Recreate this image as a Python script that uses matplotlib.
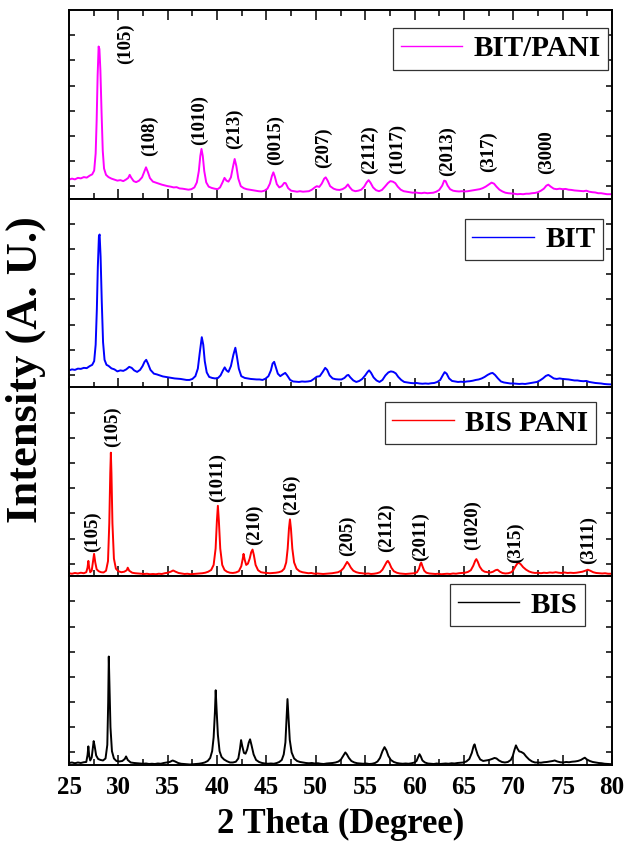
import matplotlib
matplotlib.use("Agg")
import matplotlib.pyplot as plt
from matplotlib.ticker import MultipleLocator

# ---------------- data: XRD traces (2 theta, intensity in a.u.) ----------------
bit_pani = [(25.0,1.26),(25.3,1.30),(25.6,1.27),(25.9,1.33),(26.2,1.31),(26.5,1.36),(26.8,1.34),(27.1,1.42),(27.35,1.47),(27.55,1.62),(27.7,2.3),(27.8,3.6),(27.9,5.4),(28.0,6.55),(28.08,6.45),(28.18,5.6),(28.3,3.9),(28.42,2.4),(28.55,1.7),(28.75,1.45),(29.0,1.36),(29.3,1.30),(29.6,1.26),(29.9,1.22),(30.2,1.24),(30.5,1.20),(30.8,1.27),(31.0,1.33),(31.15,1.45),(31.3,1.34),(31.55,1.20),(31.8,1.16),(32.1,1.22),(32.4,1.35),(32.6,1.55),(32.8,1.75),(33.0,1.55),(33.2,1.32),(33.5,1.18),(33.8,1.14),(34.1,1.10),(34.4,1.06),(34.7,1.03),(35.0,1.00),(35.3,0.98),(35.6,0.95),(35.9,0.96),(36.2,0.91),(36.5,0.90),(36.8,0.88),(37.1,0.86),(37.4,0.88),(37.7,0.95),(37.95,1.15),(38.15,1.6),(38.3,2.2),(38.42,2.48),(38.55,2.2),(38.7,1.6),(38.9,1.15),(39.15,0.98),(39.45,0.93),(39.75,0.90),(40.05,0.88),(40.3,0.95),(40.55,1.15),(40.75,1.33),(40.95,1.22),(41.15,1.18),(41.4,1.35),(41.6,1.75),(41.78,2.08),(41.95,1.8),(42.15,1.30),(42.4,1.00),(42.7,0.92),(43.0,0.88),(43.3,0.86),(43.6,0.84),(43.9,0.82),(44.2,0.80),(44.5,0.79),(44.8,0.82),(45.1,0.90),(45.35,1.10),(45.55,1.40),(45.7,1.55),(45.85,1.38),(46.05,1.08),(46.3,0.95),(46.55,1.00),(46.8,1.13),(46.95,1.12),(47.2,0.92),(47.5,0.82),(47.8,0.80),(48.1,0.78),(48.4,0.80),(48.7,0.78),(49.0,0.79),(49.3,0.80),(49.6,0.86),(49.9,0.95),(50.1,1.00),(50.35,0.97),(50.6,1.10),(50.85,1.30),(51.0,1.35),(51.2,1.22),(51.45,1.00),(51.8,0.90),(52.1,0.86),(52.4,0.85),(52.7,0.88),(53.0,0.95),(53.25,1.07),(53.45,0.95),(53.7,0.84),(54.0,0.80),(54.3,0.82),(54.6,0.86),(54.9,0.98),(55.15,1.15),(55.35,1.24),(55.55,1.13),(55.8,0.95),(56.1,0.84),(56.4,0.80),(56.7,0.85),(57.0,0.98),(57.3,1.12),(57.55,1.20),(57.8,1.18),(58.05,1.12),(58.3,0.98),(58.6,0.86),(58.9,0.80),(59.2,0.78),(59.5,0.76),(59.8,0.74),(60.1,0.75),(60.4,0.73),(60.7,0.72),(61.0,0.74),(61.3,0.72),(61.6,0.73),(61.9,0.74),(62.2,0.78),(62.5,0.85),(62.8,1.02),(63.0,1.22),(63.15,1.20),(63.35,1.02),(63.6,0.88),(63.9,0.82),(64.2,0.80),(64.5,0.79),(64.8,0.80),(65.1,0.79),(65.4,0.80),(65.7,0.82),(66.0,0.84),(66.3,0.86),(66.6,0.88),(66.9,0.92),(67.2,0.98),(67.5,1.06),(67.8,1.14),(68.05,1.10),(68.3,0.98),(68.6,0.86),(68.9,0.79),(69.2,0.74),(69.5,0.72),(69.8,0.71),(70.1,0.70),(70.4,0.68),(70.7,0.69),(71.0,0.68),(71.3,0.70),(71.6,0.70),(71.9,0.72),(72.2,0.73),(72.5,0.76),(72.8,0.82),(73.1,0.90),(73.35,1.02),(73.55,1.06),(73.8,0.98),(74.1,0.90),(74.4,0.88),(74.7,0.90),(75.0,0.88),(75.3,0.89),(75.6,0.86),(75.9,0.85),(76.2,0.83),(76.5,0.82),(76.8,0.81),(77.1,0.80),(77.4,0.82),(77.7,0.78),(78.0,0.76),(78.3,0.75),(78.6,0.72),(78.9,0.72),(79.2,0.70),(79.5,0.68),(80.0,0.68)]

bit = [(25.0,1.18),(25.3,1.22),(25.6,1.20),(25.9,1.25),(26.2,1.24),(26.5,1.28),(26.8,1.27),(27.1,1.35),(27.35,1.40),(27.55,1.55),(27.7,2.2),(27.82,3.6),(27.92,5.3),(28.03,6.5),(28.1,6.58),(28.2,5.7),(28.32,3.9),(28.45,2.3),(28.6,1.6),(28.8,1.40),(29.0,1.36),(29.3,1.26),(29.6,1.22),(29.9,1.14),(30.2,1.18),(30.5,1.16),(30.8,1.22),(31.1,1.32),(31.35,1.28),(31.6,1.18),(31.9,1.12),(32.2,1.20),(32.45,1.35),(32.65,1.52),(32.82,1.60),(33.0,1.45),(33.25,1.20),(33.6,1.05),(33.9,1.02),(34.2,0.98),(34.5,0.94),(34.8,0.92),(35.1,0.90),(35.4,0.88),(35.7,0.86),(36.0,0.85),(36.3,0.84),(36.6,0.82),(36.9,0.80),(37.2,0.80),(37.5,0.84),(37.8,0.95),(38.05,1.25),(38.25,1.9),(38.45,2.5),(38.6,2.2),(38.75,1.55),(38.95,1.10),(39.2,0.92),(39.5,0.88),(39.8,0.86),(40.1,0.88),(40.35,0.98),(40.6,1.18),(40.77,1.30),(40.95,1.18),(41.15,1.12),(41.4,1.35),(41.65,1.80),(41.85,2.08),(42.0,1.75),(42.2,1.25),(42.45,0.95),(42.8,0.88),(43.1,0.86),(43.4,0.84),(43.7,0.83),(44.0,0.82),(44.3,0.82),(44.6,0.80),(44.9,0.85),(45.2,0.95),(45.45,1.18),(45.62,1.45),(45.78,1.52),(45.95,1.30),(46.15,1.05),(46.4,0.95),(46.65,1.02),(46.9,1.08),(47.1,0.98),(47.4,0.80),(47.7,0.74),(48.0,0.73),(48.3,0.72),(48.6,0.74),(48.9,0.73),(49.2,0.74),(49.5,0.76),(49.8,0.84),(50.1,0.93),(50.4,0.95),(50.7,1.12),(50.95,1.28),(51.15,1.20),(51.4,0.98),(51.7,0.86),(52.0,0.83),(52.3,0.82),(52.6,0.82),(52.9,0.88),(53.15,0.98),(53.3,1.00),(53.5,0.90),(53.8,0.78),(54.1,0.72),(54.4,0.76),(54.7,0.84),(55.0,0.98),(55.25,1.12),(55.4,1.18),(55.6,1.08),(55.85,0.90),(56.15,0.78),(56.45,0.72),(56.75,0.80),(57.05,0.98),(57.35,1.10),(57.6,1.14),(57.85,1.12),(58.1,1.06),(58.35,0.92),(58.65,0.80),(58.95,0.72),(59.25,0.70),(59.6,0.68),(59.9,0.67),(60.2,0.68),(60.5,0.66),(60.8,0.65),(61.1,0.66),(61.4,0.65),(61.7,0.67),(62.0,0.68),(62.3,0.72),(62.6,0.80),(62.85,0.98),(63.05,1.11),(63.25,1.05),(63.5,0.86),(63.8,0.76),(64.1,0.74),(64.4,0.72),(64.7,0.73),(65.0,0.72),(65.3,0.74),(65.6,0.75),(65.9,0.77),(66.2,0.80),(66.5,0.82),(66.8,0.86),(67.1,0.92),(67.4,1.00),(67.7,1.06),(67.9,1.08),(68.15,1.00),(68.45,0.86),(68.75,0.74),(69.05,0.70),(69.4,0.68),(69.7,0.66),(70.0,0.66),(70.3,0.65),(70.6,0.64),(70.9,0.65),(71.2,0.64),(71.5,0.66),(71.8,0.68),(72.1,0.70),(72.4,0.72),(72.7,0.78),(73.0,0.86),(73.3,0.96),(73.55,1.00),(73.8,0.94),(74.1,0.86),(74.4,0.84),(74.7,0.86),(75.0,0.84),(75.3,0.83),(75.6,0.82),(75.9,0.80),(76.2,0.78),(76.5,0.78),(76.8,0.76),(77.1,0.75),(77.4,0.76),(77.7,0.72),(78.0,0.70),(78.3,0.68),(78.6,0.67),(78.9,0.66),(79.2,0.64),(79.5,0.63),(80.0,0.62)]

bis_pani = [(25.0,0.62),(25.3,0.60),(25.6,0.63),(25.9,0.61),(26.2,0.64),(26.5,0.62),(26.75,0.66),(26.88,0.85),(26.96,1.11),(27.04,0.85),(27.15,0.66),(27.3,0.72),(27.42,1.05),(27.54,1.39),(27.66,1.05),(27.8,0.78),(28.0,0.70),(28.25,0.66),(28.5,0.65),(28.75,0.72),(28.95,1.10),(29.08,2.6),(29.18,4.6),(29.24,5.41),(29.3,4.6),(29.4,2.6),(29.55,1.20),(29.75,0.80),(30.0,0.70),(30.3,0.66),(30.6,0.68),(30.85,0.74),(30.95,0.84),(31.1,0.72),(31.4,0.64),(31.7,0.62),(32.0,0.61),(32.3,0.60),(32.6,0.59),(32.9,0.60),(33.2,0.58),(33.5,0.59),(33.8,0.58),(34.1,0.60),(34.4,0.59),(34.7,0.62),(35.0,0.64),(35.3,0.68),(35.55,0.73),(35.8,0.68),(36.1,0.63),(36.4,0.61),(36.7,0.59),(37.0,0.60),(37.3,0.58),(37.6,0.59),(37.9,0.60),(38.2,0.61),(38.5,0.62),(38.8,0.64),(39.1,0.68),(39.4,0.75),(39.65,0.95),(39.85,1.6),(39.98,2.7),(40.08,3.30),(40.18,2.7),(40.32,1.6),(40.52,0.95),(40.75,0.75),(41.0,0.68),(41.3,0.64),(41.6,0.63),(41.9,0.65),(42.2,0.70),(42.45,0.90),(42.6,1.20),(42.68,1.39),(42.8,1.15),(42.95,0.95),(43.12,1.00),(43.3,1.20),(43.45,1.45),(43.59,1.56),(43.72,1.35),(43.9,0.95),(44.15,0.74),(44.45,0.66),(44.75,0.64),(45.05,0.63),(45.35,0.62),(45.65,0.63),(45.95,0.64),(46.25,0.66),(46.55,0.70),(46.8,0.80),(47.0,1.05),(47.15,1.6),(47.28,2.4),(47.38,2.76),(47.48,2.4),(47.62,1.6),(47.8,1.05),(48.05,0.80),(48.35,0.70),(48.65,0.66),(48.95,0.64),(49.25,0.62),(49.55,0.63),(49.85,0.60),(50.15,0.61),(50.45,0.60),(50.75,0.59),(51.05,0.60),(51.35,0.61),(51.65,0.62),(51.95,0.64),(52.25,0.66),(52.55,0.72),(52.8,0.82),(53.0,0.96),(53.17,1.07),(53.35,0.98),(53.55,0.84),(53.8,0.72),(54.1,0.66),(54.4,0.63),(54.7,0.62),(55.0,0.60),(55.3,0.61),(55.6,0.59),(55.9,0.60),(56.2,0.62),(56.5,0.66),(56.75,0.76),(57.0,0.94),(57.2,1.08),(57.3,1.11),(57.45,1.02),(57.65,0.84),(57.9,0.70),(58.2,0.64),(58.5,0.61),(58.8,0.60),(59.1,0.59),(59.4,0.60),(59.7,0.61),(60.0,0.62),(60.25,0.66),(60.45,0.80),(60.6,1.00),(60.68,1.04),(60.8,0.90),(60.98,0.72),(61.2,0.64),(61.5,0.61),(61.8,0.60),(62.1,0.59),(62.4,0.60),(62.7,0.58),(63.0,0.59),(63.3,0.60),(63.6,0.59),(63.9,0.61),(64.2,0.60),(64.5,0.62),(64.8,0.63),(65.1,0.64),(65.4,0.67),(65.7,0.74),(65.95,0.92),(66.15,1.12),(66.26,1.18),(66.4,1.08),(66.6,0.88),(66.85,0.74),(67.1,0.68),(67.4,0.66),(67.7,0.65),(67.95,0.68),(68.2,0.74),(68.4,0.76),(68.65,0.68),(68.9,0.63),(69.2,0.61),(69.5,0.62),(69.8,0.66),(70.0,0.74),(70.2,0.88),(70.4,1.00),(70.55,1.04),(70.75,0.98),(71.0,0.86),(71.3,0.76),(71.6,0.69),(71.9,0.65),(72.2,0.63),(72.5,0.64),(72.8,0.62),(73.1,0.64),(73.4,0.63),(73.7,0.65),(74.0,0.64),(74.3,0.66),(74.6,0.64),(74.9,0.63),(75.2,0.65),(75.5,0.63),(75.8,0.64),(76.1,0.63),(76.4,0.64),(76.7,0.66),(77.0,0.68),(77.3,0.72),(77.55,0.76),(77.8,0.72),(78.1,0.66),(78.4,0.63),(78.7,0.62),(79.0,0.61),(79.3,0.62),(79.6,0.60),(80.0,0.60)]

bis = [(25.0,0.58),(25.3,0.60),(25.6,0.57),(25.9,0.60),(26.2,0.58),(26.5,0.61),(26.75,0.62),(26.88,0.90),(26.96,1.24),(27.05,0.85),(27.15,0.68),(27.3,0.80),(27.42,1.20),(27.5,1.45),(27.6,1.25),(27.75,0.88),(27.95,0.74),(28.2,0.70),(28.45,0.68),(28.7,0.76),(28.88,1.30),(28.97,3.0),(29.03,4.81),(29.1,3.6),(29.2,2.0),(29.35,1.05),(29.55,0.76),(29.8,0.66),(30.1,0.64),(30.4,0.66),(30.65,0.74),(30.78,0.84),(30.95,0.70),(31.25,0.60),(31.6,0.58),(31.9,0.57),(32.2,0.56),(32.5,0.55),(32.8,0.56),(33.1,0.54),(33.4,0.55),(33.7,0.54),(34.0,0.56),(34.3,0.55),(34.6,0.58),(34.9,0.60),(35.2,0.62),(35.5,0.68),(35.75,0.64),(36.05,0.58),(36.35,0.55),(36.65,0.54),(36.95,0.53),(37.25,0.52),(37.55,0.53),(37.85,0.54),(38.15,0.55),(38.45,0.57),(38.75,0.60),(39.05,0.66),(39.3,0.78),(39.5,1.05),(39.65,1.6),(39.78,2.6),(39.86,3.47),(39.95,2.7),(40.08,1.7),(40.25,1.05),(40.45,0.82),(40.7,0.72),(41.0,0.65),(41.3,0.60),(41.6,0.60),(41.9,0.63),(42.15,0.76),(42.32,1.15),(42.43,1.49),(42.55,1.25),(42.72,0.98),(42.88,0.95),(43.05,1.12),(43.2,1.38),(43.34,1.52),(43.48,1.30),(43.7,0.92),(43.95,0.70),(44.25,0.62),(44.55,0.58),(44.85,0.56),(45.15,0.55),(45.45,0.56),(45.75,0.55),(46.05,0.58),(46.3,0.62),(46.55,0.70),(46.75,0.92),(46.92,1.4),(47.03,2.3),(47.13,3.12),(47.23,2.4),(47.36,1.5),(47.55,1.00),(47.8,0.76),(48.1,0.66),(48.4,0.62),(48.7,0.60),(49.0,0.58),(49.3,0.57),(49.6,0.58),(49.9,0.56),(50.2,0.57),(50.5,0.55),(50.8,0.54),(51.1,0.56),(51.4,0.57),(51.7,0.58),(52.0,0.60),(52.3,0.64),(52.55,0.72),(52.8,0.88),(52.99,1.00),(53.15,0.92),(53.35,0.78),(53.6,0.66),(53.9,0.60),(54.2,0.57),(54.5,0.56),(54.8,0.55),(55.1,0.56),(55.4,0.54),(55.7,0.55),(56.0,0.58),(56.25,0.64),(56.5,0.78),(56.75,1.05),(56.96,1.21),(57.15,1.08),(57.35,0.86),(57.6,0.70),(57.9,0.62),(58.2,0.58),(58.5,0.56),(58.8,0.55),(59.1,0.56),(59.4,0.55),(59.7,0.57),(60.0,0.60),(60.2,0.66),(60.38,0.82),(60.5,0.93),(60.62,0.85),(60.8,0.68),(61.05,0.60),(61.35,0.56),(61.65,0.55),(61.95,0.54),(62.25,0.56),(62.55,0.54),(62.85,0.55),(63.15,0.56),(63.45,0.55),(63.75,0.57),(64.05,0.56),(64.35,0.58),(64.65,0.59),(64.95,0.60),(65.25,0.64),(65.55,0.74),(65.8,0.98),(65.98,1.25),(66.08,1.32),(66.2,1.15),(66.4,0.90),(66.65,0.72),(66.95,0.66),(67.25,0.68),(67.55,0.70),(67.85,0.74),(68.1,0.78),(68.3,0.76),(68.55,0.68),(68.85,0.62),(69.15,0.60),(69.45,0.62),(69.75,0.70),(69.95,0.86),(70.12,1.10),(70.27,1.28),(70.42,1.15),(70.6,1.04),(70.8,1.02),(71.06,0.96),(71.3,0.84),(71.6,0.72),(71.9,0.64),(72.2,0.60),(72.5,0.60),(72.8,0.59),(73.1,0.61),(73.4,0.62),(73.7,0.64),(74.0,0.66),(74.2,0.68),(74.45,0.64),(74.75,0.61),(75.05,0.60),(75.35,0.62),(75.65,0.61),(75.95,0.63),(76.25,0.64),(76.55,0.66),(76.85,0.70),(77.1,0.76),(77.25,0.79),(77.45,0.72),(77.75,0.66),(78.05,0.62),(78.35,0.60),(78.65,0.58),(78.95,0.57),(79.25,0.55),(79.6,0.54),(80.0,0.53)]

# Miller-index labels (text, 2 theta, intensity where the label starts)
bit_pani_hkl = ["(105)", "(108)", "(1010)", "(213)", "(0015)", "(207)",
                "(2112)", "(1017)", "(2013)", "(317)", "(3000"]
bit_pani_hkl_x = [30.7, 33.1, 38.25, 41.8, 45.95, 50.75, 55.45, 58.25, 63.3, 67.45, 73.4]
bit_pani_hkl_y = [5.87, 2.2, 2.62, 2.48, 1.85, 1.71, 1.49, 1.49, 1.42, 1.56, 1.49]

bis_pani_hkl = ["(105)", "(105)", "(1011)", "(210)", "(216)", "(205)",
                "(2112)", "(2011)", "(1020)", "(315)", "(3111)"]
bis_pani_hkl_x = [27.4, 29.42, 40.08, 43.77, 47.57, 53.17, 57.15, 60.65, 65.82, 70.27, 77.57]
bis_pani_hkl_y = [1.46, 5.62, 3.44, 1.75, 2.94, 1.32, 1.46, 1.11, 1.54, 1.04, 0.97]

series_names = ["BIT/PANI", "BIT", "BIS PANI", "BIS"]
series_colors = ["#ff00ff", "#0000ff", "#ff0000", "#000000"]
series_data = [bit_pani, bit, bis_pani, bis]
legend_anchor = [(0.993, 0.905), (0.983, 0.895), (0.970, 0.921), (0.950, 0.957)]

x_ticks = [25, 30, 35, 40, 45, 50, 55, 60, 65, 70, 75, 80]

# ---------------- figure ----------------
SERIF = ["Liberation Serif", "DejaVu Serif"]
plt.rcParams["font.family"] = SERIF
plt.rcParams["font.weight"] = "bold"

fig = plt.figure(figsize=(6.27, 8.48), dpi=100)
left, right, top, bottom = 69 / 627, 612 / 627, 1 - 10 / 848, 1 - 765 / 848
gs = fig.add_gridspec(4, 1, left=left, right=right, top=top, bottom=bottom, hspace=0)
axes = [fig.add_subplot(gs[i]) for i in range(4)]

for i, ax in enumerate(axes):
    xs, ys = zip(*series_data[i])
    ax.plot(xs, ys, color=series_colors[i], lw=1.4, label=series_names[i])
    ax.set_xlim(25, 80)
    ax.set_ylim(0.5, 8.0)
    ax.set_xticks(x_ticks)
    ax.xaxis.set_minor_locator(MultipleLocator(2.5))
    ax.set_yticks([1, 2, 3, 4, 5, 6, 7])
    ax.tick_params(axis="x", which="major", direction="in", length=7.5, width=1.1,
                   top=(i == 0), bottom=True, labelbottom=(i == 3), labelsize=18, pad=8)
    ax.tick_params(axis="x", which="minor", direction="in", length=4.5, width=1.1,
                   top=(i == 0), bottom=True)
    ax.tick_params(axis="y", which="major", direction="in", length=4.5, width=1.1,
                   left=True, right=True, labelleft=False)
    for sp in ax.spines.values():
        sp.set_linewidth(1.4)
    for lab in ax.get_xticklabels():
        lab.set_fontweight("bold")
    leg = ax.legend(loc="upper right", bbox_to_anchor=legend_anchor[i],
                    prop={"family": SERIF, "weight": "bold", "size": 21},
                    handlelength=2.1, handletextpad=0.4, borderpad=0.25,
                    borderaxespad=0, fancybox=False, framealpha=1)
    leg.get_frame().set_edgecolor("#333333")
    leg.get_frame().set_linewidth(0.9)
    for h in leg.get_lines():
        h.set_linewidth(1.0)

for txt, x, y in zip(bit_pani_hkl, bit_pani_hkl_x, bit_pani_hkl_y):
    axes[0].text(x, y, txt, rotation=90, ha="center", va="bottom",
                 fontsize=13.5, fontweight="bold")
for txt, x, y in zip(bis_pani_hkl, bis_pani_hkl_x, bis_pani_hkl_y):
    axes[2].text(x, y, txt, rotation=90, ha="center", va="bottom",
                 fontsize=13.5, fontweight="bold")

fig.text((69 + 612) / 2 / 627, 1 - 824 / 848, "2 Theta (Degree)", ha="center", va="center",
         fontsize=25, fontweight="bold")
fig.text(26 / 627, 1 - 370 / 848, "Intensity (A. U.)", rotation=90, ha="center", va="center",
         fontsize=32, fontweight="bold")

fig.savefig("out.png", dpi=100)
